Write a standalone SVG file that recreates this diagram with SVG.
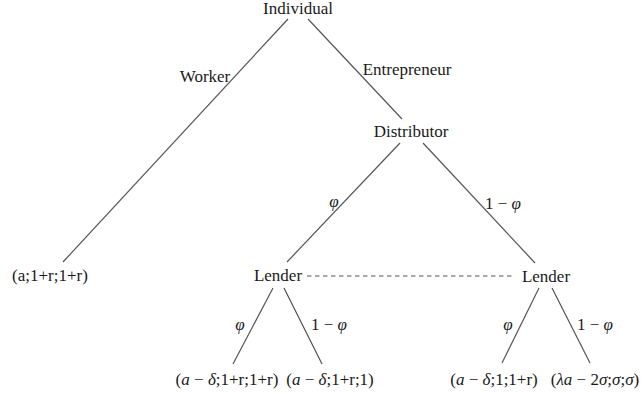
<svg xmlns="http://www.w3.org/2000/svg" width="644" height="394" viewBox="0 0 644 394">
<style>
text{font-family:"Liberation Serif","DejaVu Serif",serif;font-size:17px;fill:#1a1a1a;text-anchor:middle}
.m{font-style:italic}
.e{stroke:#555;stroke-width:1.2;fill:none}
.d{stroke:#555;stroke-width:1.1;stroke-dasharray:4.5,3.5;fill:none}
</style>
<rect width="644" height="394" fill="#fff"/>
<g id="connectors">
<line class="e" x1="288" y1="19" x2="63" y2="262"/>
<line class="e" x1="308" y1="19" x2="402" y2="119"/>
<line class="e" x1="400" y1="143" x2="287" y2="262"/>
<line class="e" x1="423" y1="143" x2="535" y2="263"/>
<line class="e" x1="273" y1="288" x2="233" y2="364"/>
<line class="e" x1="284" y1="288" x2="322" y2="364"/>
<line class="e" x1="539" y1="288" x2="502" y2="363"/>
<line class="e" x1="552" y1="288" x2="590" y2="363"/>
<line class="d" x1="307" y1="276" x2="512" y2="276"/>
<text x="205" y="82">Worker</text>
<text x="407" y="75">Entrepreneur</text>
<text x="334" y="207" class="m">φ</text>
<text x="503" y="209">1 − <tspan class="m">φ</tspan></text>
<text x="240" y="330" class="m">φ</text>
<text x="329" y="330">1 − <tspan class="m">φ</tspan></text>
<text x="508" y="330" class="m">φ</text>
<text x="595" y="330">1 − <tspan class="m">φ</tspan></text>
</g>
<g id="individual"><text x="298" y="14">Individual</text></g>
<g id="distributor"><text x="411" y="137">Distributor</text></g>
<g id="lender1"><text x="278" y="281">Lender</text></g>
<g id="lender2"><text x="546" y="282">Lender</text></g>
<g id="leaf-worker"><text x="50" y="281">(a;1+r;1+r)</text></g>
<g id="leaf1"><text x="227" y="385">(<tspan class="m">a</tspan> − <tspan class="m">δ</tspan>;1+r;1+r)</text></g>
<g id="leaf2"><text x="330" y="385">(<tspan class="m">a</tspan> − <tspan class="m">δ</tspan>;1+r;1)</text></g>
<g id="leaf3"><text x="494" y="385">(<tspan class="m">a</tspan> − <tspan class="m">δ</tspan>;1;1+r)</text></g>
<g id="leaf4"><text x="595" y="385">(<tspan class="m">λa</tspan> − 2<tspan class="m">σ</tspan>;<tspan class="m">σ</tspan>;<tspan class="m">σ</tspan>)</text></g>
</svg>
